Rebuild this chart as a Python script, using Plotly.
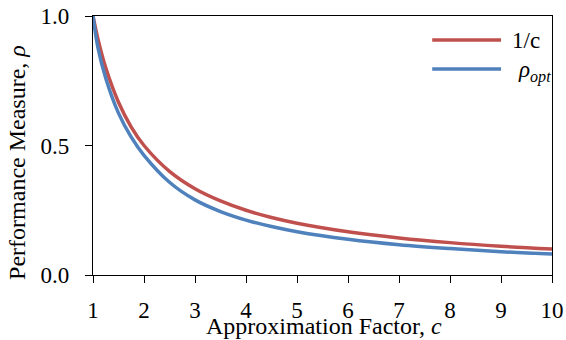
import plotly.graph_objects as go

c_vals = [1.0, 1.1, 1.25, 1.5, 1.75, 2.0, 2.5, 3.0, 3.5, 4.0, 4.5, 5.0, 6.0, 7.0, 8.0, 9.0, 10.0]
inv_c = [1.0, 0.909, 0.8, 0.667, 0.571, 0.5, 0.4, 0.333, 0.286, 0.25, 0.222, 0.2, 0.167, 0.143, 0.125, 0.111, 0.1]
rho_opt = [1.0, 0.875, 0.76, 0.625, 0.532, 0.462, 0.358, 0.290, 0.245, 0.212, 0.187, 0.167, 0.138, 0.117, 0.102, 0.090, 0.081]

x_ticks = [1, 2, 3, 4, 5, 6, 7, 8, 9, 10]
y_ticks = [0.0, 0.5, 1.0]
y_tick_text = ["0.0", "0.5", "1.0"]

RED = "#C0504D"
BLUE = "#4F81BD"
FONT = "Liberation Serif, Times New Roman, serif"
FS = 23
FS_T = 24

fig = go.Figure()
fig.add_trace(go.Scatter(x=c_vals, y=inv_c, mode="lines", name="1/c",
                         line=dict(color=RED, width=3.5, shape="spline", smoothing=1.0)))
fig.add_trace(go.Scatter(x=c_vals, y=rho_opt, mode="lines", name="rho_opt",
                         line=dict(color=BLUE, width=3.5, shape="spline", smoothing=1.0)))

fig.update_layout(
    width=566, height=340,
    margin=dict(l=93, r=14, t=16, b=65, autoexpand=False),
    plot_bgcolor="white", paper_bgcolor="white",
    showlegend=False,
    font=dict(family=FONT, size=FS, color="black"),
    xaxis=dict(range=[1, 10], tickvals=x_ticks, ticks="outside", ticklen=7, tickwidth=1.3,
               tickcolor="black", showline=True, linecolor="black", linewidth=1.3, mirror=True,
               showgrid=False, zeroline=False, ticklabelstandoff=7, automargin=False,
               tickfont=dict(family=FONT, size=FS, color="black")),
    yaxis=dict(range=[0, 1], tickvals=y_ticks, ticktext=y_tick_text, ticks="outside", ticklen=7,
               tickwidth=1.3, tickcolor="black", showline=True, linecolor="black", linewidth=1.3,
               mirror=True, showgrid=False, zeroline=False, ticklabelstandoff=11, automargin=False,
               tickfont=dict(family=FONT, size=FS, color="black")),
)

# axis titles
fig.add_annotation(text="Approximation Factor, <i>c</i>", xref="paper", yref="paper",
                   x=0.503, y=-0.197, xanchor="center", yanchor="middle", showarrow=False,
                   font=dict(family=FONT, size=FS_T, color="black"))
fig.add_annotation(text="Performance Measure, <i>ρ</i>", xref="paper", yref="paper",
                   x=-0.166, y=0.436, xanchor="center", yanchor="middle", showarrow=False,
                   textangle=-90, font=dict(family=FONT, size=FS_T, color="black"))

# legend
fig.add_shape(type="line", xref="paper", yref="paper", x0=0.739, x1=0.889, y0=0.907, y1=0.907,
              line=dict(color=RED, width=3.5))
fig.add_shape(type="line", xref="paper", yref="paper", x0=0.739, x1=0.889, y0=0.795, y1=0.795,
              line=dict(color=BLUE, width=3.5))
fig.add_annotation(text="1/c", xref="paper", yref="paper", x=0.909, y=0.907,
                   xanchor="left", yanchor="middle", showarrow=False,
                   font=dict(family=FONT, size=FS, color="black"))
fig.add_annotation(text="<i>ρ</i><sub><i>opt</i></sub>", xref="paper", yref="paper", x=0.922, y=0.785,
                   xanchor="left", yanchor="middle", showarrow=False,
                   font=dict(family=FONT, size=FS, color="black"))

fig.write_html("out.html")
